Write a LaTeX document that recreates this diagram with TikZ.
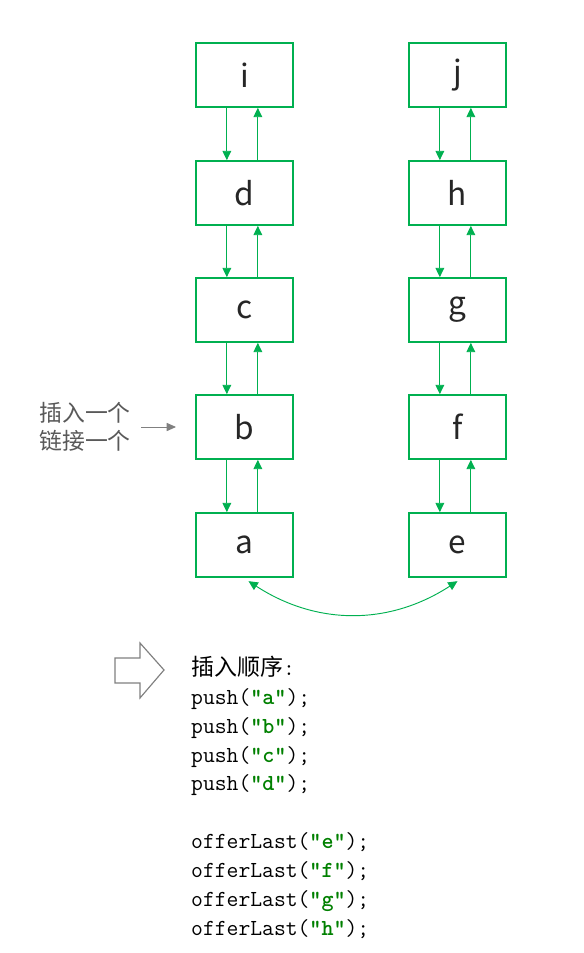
\documentclass[tikz,border=0pt]{standalone}
\usepackage{fontspec}
\newfontfamily\cjk{Noto Sans CJK SC}
\usetikzlibrary{arrows.meta}
\definecolor{boxgreen}{RGB}{0,176,80}
\definecolor{codegreen}{RGB}{0,128,0}
\tikzset{
  cell/.style={draw=boxgreen, line width=1.4pt, minimum width=2.92cm, minimum height=1.92cm,
    inner sep=0pt, font=\cjk\fontsize{27}{27}\selectfont, text=black!85},
  link/.style={draw=boxgreen, line width=0.8pt, -{Triangle[length=8pt,width=7.5pt]}},
}
\newcommand{\qt}[1]{{\color{codegreen}\bfseries"#1"}}
\begin{document}
\begin{tikzpicture}[x=0.03cm,y=-0.03cm]
    \useasboundingbox (0,0) rectangle (583,953);
    % left column
    \node[cell] (i) at (244.5,75) {i};
    \node[cell] (d) at (244.5,193) {d};
    \node[cell] (c) at (244.5,310) {c};
    \node[cell] (b) at (244.5,427) {b};
    \node[cell] (a) at (244.5,545) {a};
    % right column
    \node[cell] (j) at (457.5,75) {j};
    \node[cell] (h) at (457.5,193) {h};
    \node[cell] (g) at (457.5,310) {g};
    \node[cell] (f) at (457.5,427) {f};
    \node[cell] (e) at (457.5,545) {e};
    \foreach \hi/\lo in {i/d,d/c,c/b,b/a,j/h,h/g,g/f,f/e}{
        \draw[link] ([xshift=-0.53cm]\hi.south) -- ([xshift=-0.53cm]\lo.north);
        \draw[link] ([xshift=0.4cm]\lo.north) -- ([xshift=0.4cm]\hi.south);
    }
    \draw[link, {Triangle[length=8pt,width=7.5pt]}-{Triangle[length=8pt,width=7.5pt]}]
        ([xshift=0.12cm,yshift=-0.1cm]a.south) to[bend right=33] ([yshift=-0.1cm]e.south);
    % insert label
    \node[anchor=east, align=left, inner sep=0pt, font=\cjk\fontsize{19.5}{24}\selectfont, text=black!65] (ins) at (131,427) {插入一个\\链接一个};
    \draw[black!50, line width=0.8pt, -{Triangle[length=8pt,width=7pt]}, shorten <=0.3cm, shorten >=0.57cm] (ins.east) -- (b.west);
    % hollow arrow
    \draw[black!50, line width=1pt] (115,658) -- (140,658) -- (140,643) -- (164,670) -- (140,698) -- (140,683) -- (115,683) -- cycle;
    \node[anchor=north west, align=left, inner sep=0pt, font=\ttfamily\fontsize{19.6}{24.6}\selectfont] (order) at (191,656)
        {{\cjk 插入顺序}:\\push(\qt{a});\\push(\qt{b});\\push(\qt{c});\\push(\qt{d});\\[24.6pt]
         offerLast(\qt{e});\\offerLast(\qt{f});\\offerLast(\qt{g});\\offerLast(\qt{h});};
\end{tikzpicture}
\end{document}
